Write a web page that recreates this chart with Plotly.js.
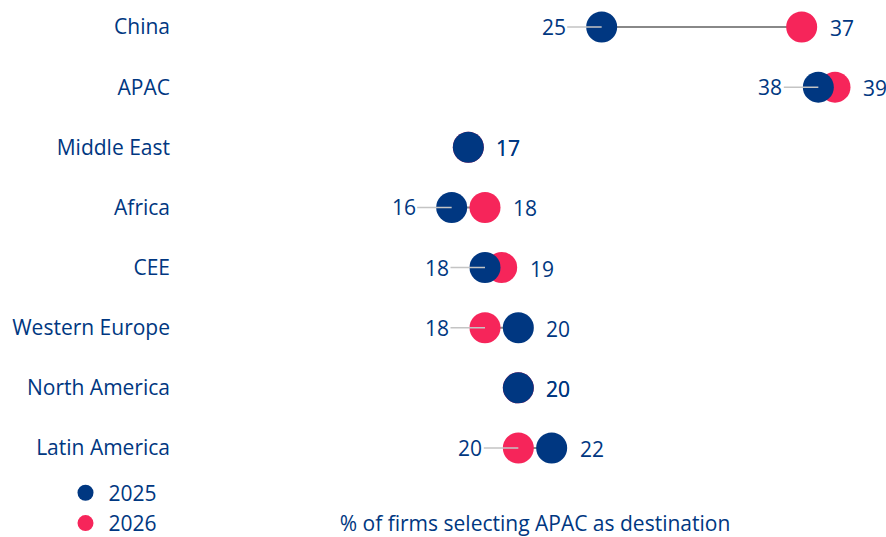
<!DOCTYPE html>
<html>
<head>
<meta charset="utf-8">
<script src="https://cdn.plot.ly/plotly-3.0.1.min.js"></script>
<style>
  html, body { margin: 0; padding: 0; background: #fff; }
  #chart { width: 886px; height: 537px; }
</style>
</head>
<body>
<div id="chart"></div>
<script>
// APAC as destination, share of firms by origin region
const categories = ['China', 'APAC', 'Middle East', 'Africa', 'CEE', 'Western Europe', 'North America', 'Latin America'];
const values2025 = [25, 38, 17, 16, 18, 20, 20, 22];
const values2026 = [37, 39, 17, 18, 19, 18, 20, 20];

const BLUE = '#003781';
const PINK = '#f6255a';
const FONT = 'Open Sans, sans-serif';

// grey connector between the two years
const lineX = [], lineY = [];
categories.forEach((c, i) => {
  lineX.push(values2025[i], values2026[i], null);
  lineY.push(c, c, null);
});

const connector = {
  x: lineX, y: lineY,
  mode: 'lines', type: 'scatter',
  line: { color: '#888888', width: 2 },
  hoverinfo: 'skip', showlegend: false, cliponaxis: false
};

const trace2026 = {
  x: values2026, y: categories,
  mode: 'markers', type: 'scatter', name: '2026',
  marker: { color: PINK, size: 31 },
  legendrank: 2, cliponaxis: false
};

const trace2025 = {
  x: values2025, y: categories,
  mode: 'markers', type: 'scatter', name: '2025',
  marker: { color: BLUE, size: 31 },
  legendrank: 1, cliponaxis: false
};

// value labels: lower value on the left with a leader line, higher on the right
const annotations = [];
categories.forEach((c, i) => {
  [values2025[i], values2026[i]].forEach((v, k) => {
    const other = k === 0 ? values2026[i] : values2025[i];
    const left = v < other;
    const a = {
      x: v, y: c, xref: 'x', yref: 'y',
      text: String(v),
      font: { family: FONT, size: 21, color: BLUE }
    };
    if (left) {
      Object.assign(a, {
        showarrow: true, ax: -48, ay: 0, arrowhead: 0,
        arrowwidth: 1.5, arrowcolor: '#c4c4c4', standoff: 0
      });
    } else {
      Object.assign(a, { showarrow: false, xanchor: 'left', xshift: 26, yshift: -1 });
    }
    annotations.push(a);
  });
});

const layout = {
  width: 886, height: 537,
  margin: { l: 185, r: 1, t: 0, b: 70, autoexpand: false },
  paper_bgcolor: '#fff', plot_bgcolor: '#fff',
  font: { family: FONT, size: 21, color: BLUE },
  xaxis: {
    range: [0, 42],
    showgrid: false, zeroline: false, showline: false,
    showticklabels: false, ticks: '',
    title: { text: '% of firms selecting APAC as destination', standoff: 54, font: { size: 21, color: BLUE } }
  },
  yaxis: {
    type: 'category',
    categoryorder: 'array', categoryarray: categories,
    range: [7.316, -0.449],
    showgrid: false, zeroline: false, showline: false,
    ticks: '', ticklabelstandoff: 14,
    tickfont: { size: 21, color: BLUE }
  },
  showlegend: true,
  legend: {
    x: -0.175, xanchor: 'left', y: -0.012, yanchor: 'top',
    orientation: 'v', itemwidth: 36,
    font: { size: 21, color: BLUE },
    bgcolor: 'rgba(0,0,0,0)'
  },
  annotations: annotations
};

Plotly.newPlot('chart', [connector, trace2026, trace2025], layout, { displayModeBar: false, staticPlot: true });
</script>
</body>
</html>
